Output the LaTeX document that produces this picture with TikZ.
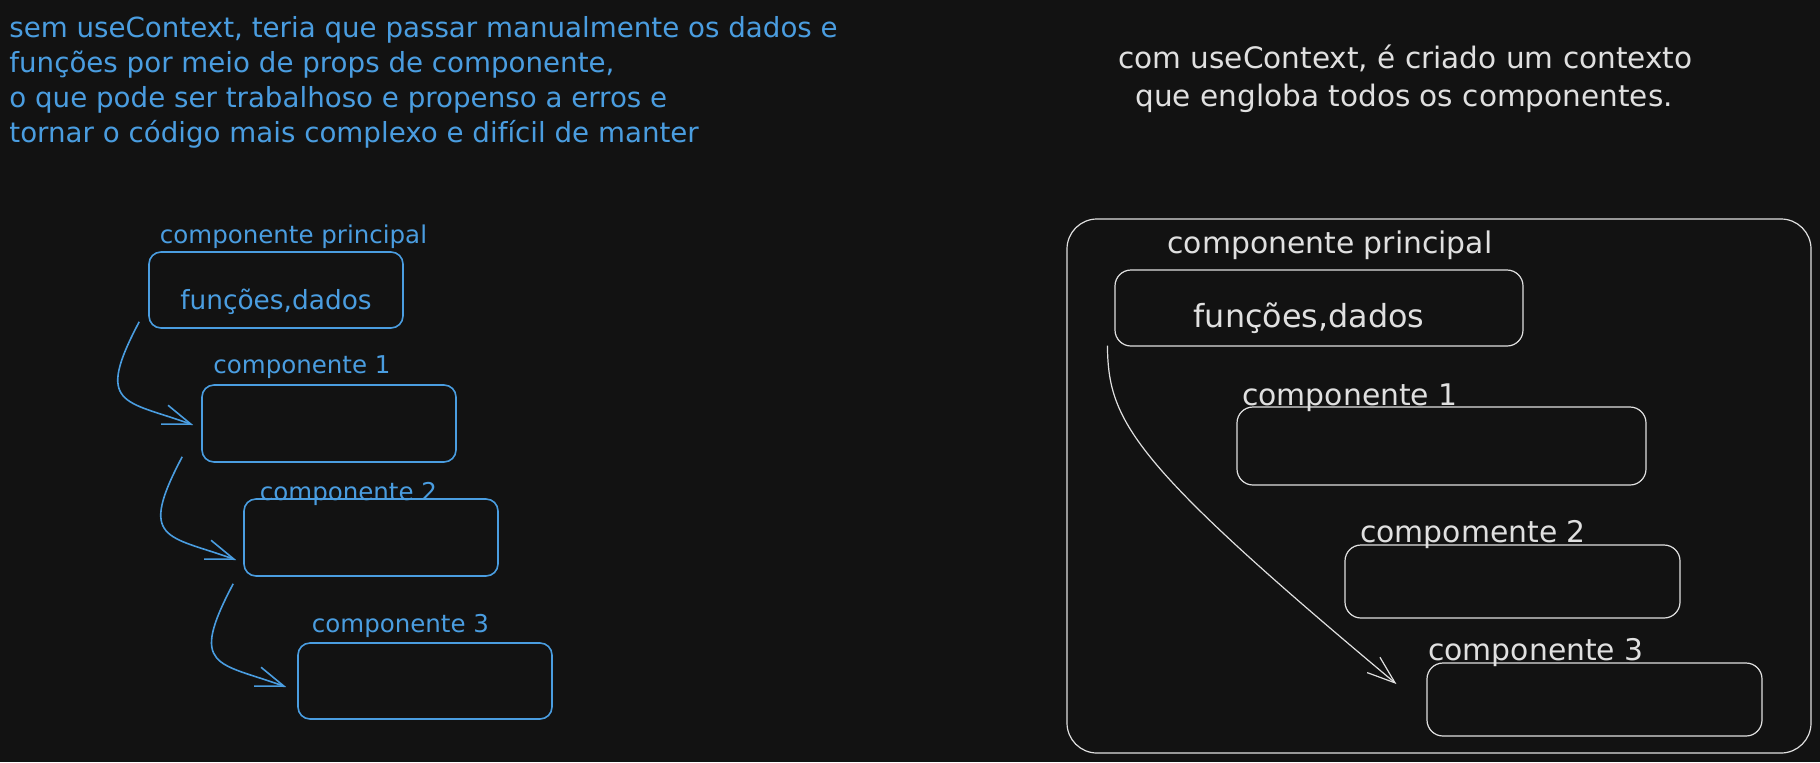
\documentclass[tikz,border=0pt]{standalone}
\usepackage{fontspec}
\setmainfont{DejaVu Sans}
\usetikzlibrary{arrows.meta,calc}
\definecolor{bgc}{HTML}{121212}
\definecolor{blu}{HTML}{4A9DE0}
\definecolor{wht}{HTML}{E0E0E0}
\begin{document}
\begin{tikzpicture}[x=0.5pt,y=-0.5pt,
  bbox/.style={draw=blu,line width=0.8pt,rounded corners=6pt,inner sep=0pt,rectangle},
  wbox/.style={draw=wht,line width=0.6pt,rounded corners=8pt,inner sep=0pt,rectangle},
  btxt/.style={text=blu,inner sep=0pt,anchor=base},
  wtxt/.style={text=wht,inner sep=0pt,anchor=base},
  barrow/.style={draw=blu,line width=0.8pt,-{Straight Barb[length=14pt,width=10pt]}},
  warrow/.style={draw=wht,line width=0.6pt,-{Straight Barb[length=14pt,width=10pt]}},
  lfont/.style={font=\fontsize{12.25}{14}\selectfont},
  rfont/.style={font=\fontsize{14.9}{17}\selectfont}]
\fill[bgc] (0,0) rectangle (1820,762);
\useasboundingbox (0,0) rectangle (1820,762);

% ---------- left side ----------
\node[btxt,anchor=base west,align=left,font=\fontsize{13.85}{17.4}\selectfont] (introL) at (9,142)
  {sem useContext, teria que passar manualmente os dados e\\
   funções por meio de props de componente,\\
   o que pode ser trabalhoso e propenso a erros e\\
   tornar o código mais complexo e difícil de manter};

\node[bbox,minimum width=127pt,minimum height=38pt] (lp) at (276,290) {};
\node[bbox,minimum width=127pt,minimum height=38.5pt] (lb1) at (329,423.5) {};
\node[bbox,minimum width=127pt,minimum height=38.5pt] (lb2) at (371,537.5) {};
\node[bbox,minimum width=127pt,minimum height=38pt] (lb3) at (425,681) {};

\node[btxt,lfont] (lpl) at (293.5,243) {componente principal};
\node[btxt,font=\fontsize{13.2}{15}\selectfont] (lpt) at (276,309) {funções,dados};
\node[btxt,lfont] (lb1l) at (302,373) {componente 1};
\node[btxt,lfont] (lb2l) at (348.5,500) {componente 2};
\node[btxt,lfont] (lb3l) at (400.5,632) {componente 3};

\coordinate (s1) at ($(lp.south west)+(-9,-7)$);
\coordinate (s2) at ($(lb1.south west)+(-19,-6)$);
\coordinate (s3) at ($(lb2.south west)+(-10,7)$);
\draw[barrow] (s1) .. controls +(-45,85) and +(-69,-25) .. ($(lb1.west)+(-8,1.5)$);
\draw[barrow] (s2) .. controls +(-45,85) and +(-69,-25) .. ($(lb2.west)+(-7,22.5)$);
\draw[barrow] (s3) .. controls +(-45,85) and +(-69,-25) .. ($(lb3.west)+(-11,6)$);

% ---------- right side ----------
\node[wtxt,anchor=base west,align=left,font=\fontsize{14.77}{19}\selectfont] (introR) at (1118,106)
  {com useContext, é criado um contexto\\
   \hspace*{8.5pt}que engloba todos os componentes.};

\node[draw=wht,line width=0.6pt,rounded corners=15pt,inner sep=0pt,rectangle,
      minimum width=372pt,minimum height=267pt] (ctx) at (1439,486) {};

\node[wbox,minimum width=204pt,minimum height=38pt] (rp) at (1319,308) {};
\node[wbox,minimum width=204.5pt,minimum height=39pt] (rb1) at (1441.5,446) {};
\node[wbox,minimum width=167.5pt,minimum height=36.5pt] (rb2) at (1512.5,581.5) {};
\node[wbox,minimum width=167.5pt,minimum height=36.5pt] (rb3) at (1594.5,699.5) {};

\node[wtxt,rfont] (rpl) at (1330,253) {componente principal};
\node[wtxt,font=\fontsize{15.9}{18}\selectfont] (rpt) at (1309,327) {funções,dados};
\node[wtxt,rfont] (rb1l) at (1350,405) {componente 1};
\node[wtxt,rfont] (rb2l) at (1473,542) {compomente 2};
\node[wtxt,rfont] (rb3l) at (1536,660) {componente 3};

\coordinate (rs) at ($(rp.south west)+(-7,-1)$);
\draw[warrow] (rs) .. controls +(1,75) and +(-267,-223) .. ($(rb3.west)+(-30,-15.5)$);
\end{tikzpicture}
\end{document}
